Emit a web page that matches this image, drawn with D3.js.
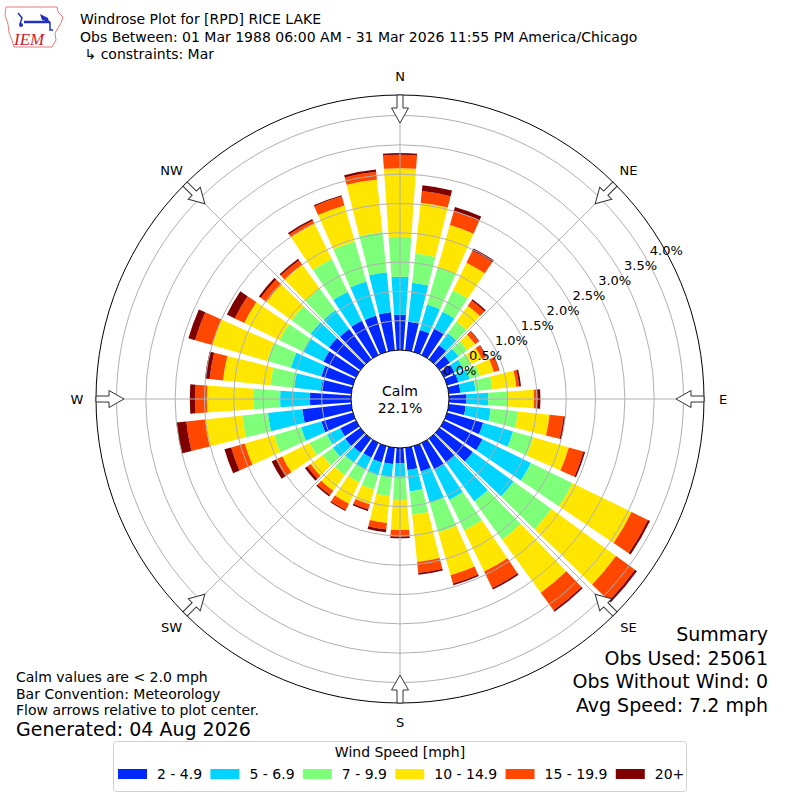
<!DOCTYPE html>
<html>
<head>
<meta charset="utf-8">
<script src="https://cdn.jsdelivr.net/npm/d3@7"></script>
<style>
body { margin: 0; background: #fff; }
svg text { font-family: "DejaVu Sans", sans-serif; fill: #000; }
</style>
</head>
<body>
<svg id="chart" width="800" height="800"></svg>
<script>
// wind direction bins (degrees, meteorological) and speed classes
var directions = d3.range(0, 360, 10);
var speedBins = ['2 - 4.9', '5 - 6.9', '7 - 9.9', '10 - 14.9', '15 - 19.9', '20+'];
var binColors = ['#0028ff', '#00d4ff', '#7dff7a', '#ffe600', '#ff4700', '#7f0000'];

// percent of observations per direction, one array per speed class
var spd2to5 = [0.60,0.49,0.39,0.51,0.30,0.22,0.20,0.20,0.20,0.30,0.29,0.64,0.73,0.70,0.51,0.50,0.45,0.38,
               0.26,0.28,0.29,0.28,0.30,0.32,0.30,0.56,0.84,0.70,0.52,0.56,0.62,0.66,0.64,0.65,0.64,0.65];
var spd5to7 = [0.65,0.67,0.45,0.31,0.25,0.18,0.16,0.20,0.26,0.37,0.43,0.53,0.92,0.86,0.81,0.58,0.55,0.37,
               0.23,0.23,0.23,0.22,0.21,0.26,0.25,0.36,0.59,0.51,0.46,0.54,0.38,0.39,0.40,0.55,0.61,0.69];
var spd7to10 = [0.68,0.50,0.66,0.41,0.25,0.18,0.16,0.18,0.29,0.34,0.47,0.36,0.79,0.80,0.81,0.58,0.53,0.40,
                0.40,0.32,0.25,0.25,0.26,0.22,0.33,0.48,0.44,0.46,0.41,0.42,0.45,0.40,0.45,0.62,0.71,0.69];
var spd10to15 = [1.17,0.87,0.75,0.52,0.33,0.17,0.20,0.25,0.41,0.44,0.54,0.63,1.12,1.36,1.12,0.78,0.76,0.81,
                 0.51,0.46,0.26,0.40,0.33,0.25,0.52,0.52,0.64,0.79,0.81,0.98,0.67,0.53,0.51,0.67,0.64,0.90];
var spd15to20 = [0.23,0.20,0.25,0.23,0.11,0.08,0.08,0.09,0.05,0.06,0.24,0.26,0.31,0.40,0.37,0.31,0.15,0.19,
                 0.11,0.11,0.09,0.12,0.09,0.07,0.12,0.24,0.32,0.20,0.23,0.30,0.18,0.12,0.09,0.06,0.16,0.13];
var spd20up = [0.03,0.10,0.07,0.04,0.03,0.01,0.01,0.01,0.03,0.05,0.03,0.03,0.04,0.04,0.03,0.03,0.03,0.03,
               0.03,0.05,0.03,0.02,0.03,0.05,0.08,0.12,0.17,0.09,0.08,0.12,0.15,0.04,0.03,0.03,0.02,0.04];

var ringTicks = [0, 0.5, 1.0, 1.5, 2.0, 2.5, 3.0, 3.5, 4.0];
var compassLabels = ['N', 'NE', 'E', 'SE', 'S', 'SW', 'W', 'NW'];
var calmPct = '22.1%';

var svg = d3.select('#chart');
var cx = 400, cy = 399;
var rad = function (deg) { return deg * Math.PI / 180; };

var r = d3.scaleLinear().domain([0, 4.35]).range([49, 304]);
var rOuter = r.range()[1];

var seriesArrays = [spd2to5, spd5to7, spd7to10, spd10to15, spd15to20, spd20up];
var rows = directions.map(function (dir, i) {
    var row = { dir: dir };
    speedBins.forEach(function (b, j) { row[b] = seriesArrays[j][i]; });
    return row;
});
var stacked = d3.stack().keys(speedBins)(rows);

var plot = svg.append('g').attr('transform', 'translate(' + cx + ',' + cy + ')');

// bars
var arc = d3.arc();
plot.selectAll('g.layer')
    .data(stacked)
    .enter()
    .append('g')
    .attr('class', 'layer')
    .attr('fill', function (d, i) { return binColors[i]; })
    .selectAll('path')
    .data(function (d) { return d; })
    .enter()
    .append('path')
    .attr('d', function (d) {
        return arc({
            innerRadius: r(d[0]),
            outerRadius: r(d[1]),
            startAngle: rad(d.data.dir - 4),
            endAngle: rad(d.data.dir + 4)
        });
    });

// grid on top of bars
plot.selectAll('circle.ring')
    .data(ringTicks.slice(1))
    .enter()
    .append('circle')
    .attr('class', 'ring')
    .attr('r', function (d) { return r(d); })
    .attr('fill', 'none')
    .attr('stroke', '#b0b0b0')
    .attr('stroke-width', 1);

plot.selectAll('line.spoke')
    .data(d3.range(0, 360, 45))
    .enter()
    .append('line')
    .attr('x1', function (d) { return r(0) * Math.sin(rad(d)); })
    .attr('y1', function (d) { return -r(0) * Math.cos(rad(d)); })
    .attr('x2', function (d) { return rOuter * Math.sin(rad(d)); })
    .attr('y2', function (d) { return -rOuter * Math.cos(rad(d)); })
    .attr('stroke', '#b0b0b0')
    .attr('stroke-width', 1);

plot.append('circle')
    .attr('r', rOuter)
    .attr('fill', 'none')
    .attr('stroke', '#000')
    .attr('stroke-width', 1);

// calm circle
plot.append('circle')
    .attr('r', r(0))
    .attr('fill', '#fff')
    .attr('stroke', '#000')
    .attr('stroke-width', 1);

plot.append('text')
    .attr('text-anchor', 'middle')
    .attr('y', -3)
    .style('font-size', '14px')
    .text('Calm');
plot.append('text')
    .attr('text-anchor', 'middle')
    .attr('y', 14)
    .style('font-size', '14px')
    .text(calmPct);

// radial tick labels
plot.selectAll('text.rlab')
    .data(ringTicks)
    .enter()
    .append('text')
    .attr('class', 'rlab')
    .attr('x', function (d) { return (r(d) + 1 + d) * Math.sin(rad(60)); })
    .attr('y', function (d) { return -(r(d) + 1 + d) * Math.cos(rad(60)) + 0.5; })
    .style('font-size', '13px')
    .text(function (d) { return d.toFixed(1) + '%'; });

// compass arrows pointing to center
var arrows = plot.selectAll('g.arrow')
    .data(compassLabels)
    .enter()
    .append('g')
    .attr('transform', function (d, i) { return 'rotate(' + (i * 45) + ')'; });

arrows.append('path')
    .attr('d', 'M-3,' + (-rOuter) + 'L-3,' + (-rOuter + 13) + 'L-8.5,' + (-rOuter + 13) +
               'L0,' + (-rOuter + 28) + 'L8.5,' + (-rOuter + 13) + 'L3,' + (-rOuter + 13) +
               'L3,' + (-rOuter) + 'Z')
    .attr('fill', '#fff')
    .attr('stroke', '#333')
    .attr('stroke-width', 1);

plot.selectAll('text.compass')
    .data(compassLabels)
    .enter()
    .append('text')
    .attr('text-anchor', 'middle')
    .attr('dy', '0.35em')
    .attr('x', function (d, i) { return (rOuter + 19) * Math.sin(rad(i * 45)); })
    .attr('y', function (d, i) { return -(rOuter + 19) * Math.cos(rad(i * 45)); })
    .style('font-size', '13px')
    .text(function (d) { return d; });

// header
var logo = svg.append('g');
logo.append('path')
    .attr('d', 'M6,7 L57,7 L58,12 L63,17 L61,23 L58,28 L55,33 L56,40 L52,47 L14,47 L12,40 L9,33 L8,24 L5,15 Z')
    .attr('fill', 'none')
    .attr('stroke', '#e08080')
    .attr('stroke-width', 1);
logo.append('line').attr('x1', 24).attr('y1', 22).attr('x2', 50).attr('y2', 22)
    .attr('stroke', '#2030c0').attr('stroke-width', 2.5);
logo.append('path').attr('d', 'M40,14 L48,18 L49,22 L42,20 Z').attr('fill', '#2030c0');
logo.append('path').attr('d', 'M18,13 L22,18 L20,24').attr('fill', 'none').attr('stroke', '#2030c0').attr('stroke-width', 1.5);
logo.append('circle').attr('cx', 21).attr('cy', 25).attr('r', 2).attr('fill', '#2030c0');
logo.append('path').attr('d', 'M50,22 L50,30 L53,30').attr('fill', 'none').attr('stroke', '#2030c0').attr('stroke-width', 1.5);
logo.append('text')
    .attr('x', 14).attr('y', 45)
    .style('font-family', '"Liberation Serif", serif')
    .style('font-style', 'italic')
    .style('font-size', '17px')
    .style('fill', '#d0202a')
    .text('IEM');

var titleLines = [
    'Windrose Plot for [RPD] RICE LAKE',
    'Obs Between: 01 Mar 1988 06:00 AM - 31 Mar 2026 11:55 PM America/Chicago',
    ' \u21b3 constraints: Mar'
];
svg.selectAll('text.title')
    .data(titleLines)
    .enter()
    .append('text')
    .attr('x', 80)
    .attr('y', function (d, i) { return 24 + i * 17.5; })
    .style('font-size', '14px')
    .style('white-space', 'pre')
    .text(function (d) { return d; });

// summary (right)
var summary = ['Summary', 'Obs Used: 25061', 'Obs Without Wind: 0', 'Avg Speed: 7.2 mph'];
svg.selectAll('text.summary')
    .data(summary)
    .enter()
    .append('text')
    .attr('text-anchor', 'end')
    .attr('x', 768)
    .attr('y', function (d, i) { return 641 + i * 23.7; })
    .style('font-size', '19px')
    .text(function (d) { return d; });

// notes (left)
var notes = ['Calm values are < 2.0 mph', 'Bar Convention: Meteorology', 'Flow arrows relative to plot center.'];
svg.selectAll('text.note')
    .data(notes)
    .enter()
    .append('text')
    .attr('x', 16)
    .attr('y', function (d, i) { return 682 + i * 16.5; })
    .style('font-size', '14px')
    .text(function (d) { return d; });
svg.append('text')
    .attr('x', 16)
    .attr('y', 736)
    .style('font-size', '19px')
    .text('Generated: 04 Aug 2026');

// legend
var legend = svg.append('g');
legend.append('rect')
    .attr('x', 113.5).attr('y', 741.5)
    .attr('width', 573).attr('height', 50)
    .attr('rx', 3)
    .attr('fill', '#fff')
    .attr('stroke', '#d0d0d0');
legend.append('text')
    .attr('x', 400).attr('y', 757)
    .attr('text-anchor', 'middle')
    .style('font-size', '14px')
    .text('Wind Speed [mph]');

var lx = 118;
speedBins.forEach(function (b, i) {
    legend.append('rect')
        .attr('x', lx).attr('y', 769)
        .attr('width', 29).attr('height', 10)
        .attr('fill', binColors[i]);
    var t = legend.append('text')
        .attr('x', lx + 39).attr('y', 779)
        .style('font-size', '14px')
        .text(b);
    lx += 39 + t.node().getComputedTextLength() + 8.3;
});
</script>
</body>
</html>
